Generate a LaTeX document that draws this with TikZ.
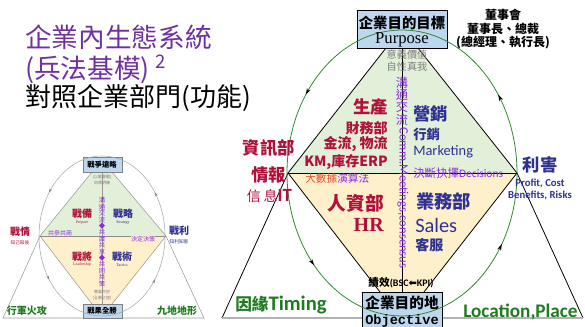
\documentclass[tikz,border=0pt]{standalone}
\usepackage{fontspec}
\setmainfont{Liberation Serif}
\newfontfamily\cjk{Noto Sans CJK TC}
\newfontfamily\calib{Carlito}
\newfontfamily\monof{Liberation Mono}
\newfontfamily\symb{DejaVu Sans}
\usetikzlibrary{arrows.meta,decorations.markings}

\definecolor{titlepurple}{HTML}{7030A0}
\definecolor{commpurple}{HTML}{8B2BE2}
\definecolor{deepred}{HTML}{B0103A}
\definecolor{deepblue}{HTML}{2E3192}
\definecolor{deepgreen}{HTML}{1E7B1E}
\definecolor{leafgreen}{HTML}{E2EFD9}
\definecolor{sandorange}{HTML}{FFF0CC}
\definecolor{boxblue}{HTML}{BDD7EE}
\definecolor{ringgreen}{HTML}{2E8B2E}
\definecolor{datared}{HTML}{E0502A}

\newcommand\fsz[1]{\fontsize{#1}{#1}\selectfont}

\tikzset{
  goalbox/.style={draw=black, fill=boxblue, line width=0.7pt},
  hexline/.style={draw=black, line width=0.6pt},
  ring/.style={draw=ringgreen, line width=0.6pt, postaction=decorate,
    decoration={markings,
      mark=at position 0.09 with {\arrowreversed[black]{Stealth[length=5pt,width=3pt]}},
      mark=at position 0.38 with {\arrowreversed[black]{Stealth[length=5pt,width=3pt]}},
      mark=at position 0.60 with {\arrowreversed[black]{Stealth[length=5pt,width=3pt]}},
      mark=at position 0.90 with {\arrowreversed[black]{Stealth[length=5pt,width=3pt]}}}},
  minring/.style={draw=gray!70, line width=0.4pt, postaction=decorate,
    decoration={markings,
      mark=at position 0.10 with {\arrowreversed[gray]{Stealth[length=3pt,width=2pt]}},
      mark=at position 0.40 with {\arrowreversed[gray]{Stealth[length=3pt,width=2pt]}},
      mark=at position 0.60 with {\arrowreversed[gray]{Stealth[length=3pt,width=2pt]}},
      mark=at position 0.90 with {\arrowreversed[gray]{Stealth[length=3pt,width=2pt]}}}},
  redtxt/.style={text=deepred, font=\cjk\bfseries},
  bluetxt/.style={text=deepblue, font=\cjk\bfseries},
}

\begin{document}
\begin{tikzpicture}[x=0.75pt,y=0.75pt,yscale=-1,xscale=1,every node/.style={inner sep=0pt}]
\useasboundingbox (0,0) rectangle (585,327);

% Title
\draw (25,37) node [anchor=west, text=titlepurple, font=\cjk\fsz{20}] (title1) {企業內生態系統};
\draw (25,69) node [anchor=west, text=titlepurple, font=\cjk\fsz{20}] (title2) {(兵法基模) \textsuperscript{2}};
\draw (25,98) node [anchor=west, font=\cjk\fsz{19.5}] (title3) {對照企業部門(功能)};

%%%%%% small model (left) %%%%%%
\coordinate (mtl) at (92,172); \coordinate (mtr) at (112,172);
\coordinate (mlv) at (40,236);  \coordinate (mrv) at (166,236);
\coordinate (mbl) at (92,304);  \coordinate (mbr) at (112,304);
\coordinate (mcl) at (3,318);   \coordinate (mcr) at (204,318);

%Shape: Polygon
\fill[leafgreen] (mtl) -- (mtr) -- (mrv) -- (mlv) -- cycle ;
\fill[sandorange] (mlv) -- (mrv) -- (mbr) -- (mbl) -- cycle ;
\draw[gray!80, line width=0.4pt] (mtl) -- (mlv) -- (mbl) (mtr) -- (mrv) -- (mbr) ;
\draw[gray!80, line width=0.4pt] (mlv) -- (mcl) -- (mcr) -- (mrv) ;
\draw[gray!90, line width=0.5pt] (mlv) -- (mrv) ;
\draw[gray!80, line width=0.4pt] (102,172) -- (102,304) ;
%Shape: Rectangle
\draw[goalbox, line width=0.4pt, draw=gray] (83,157) rectangle (122,172) ;
\draw[goalbox, line width=0.4pt, draw=gray] (83,304) rectangle (122,318) ;
%Shape: Ellipse
\draw[minring] (102,236) ellipse [x radius=63, y radius=80] ;

% Text Node
\draw (102,164.5) node [font=\cjk\bfseries\fsz{5.5}] (mtop) {戰爭遠略};
\draw (102,311) node [font=\cjk\bfseries\fsz{5.5}] (mbot) {戰果全勝};
\draw (102,177) node [text=gray, font=\cjk\fsz{3}] (mtop1) {(以戰養戰)};
\draw (102,183) node [text=gray, font=\cjk\fsz{3}] (mtop2) {目標明確};
\draw (102,292) node [text=gray, font=\cjk\fsz{3}] (mbot1) {雙贏共好};
\draw (102,298) node [text=gray, font=\cjk\fsz{3}] (mbot2) {(全勝之道)};
\draw (82,214) node [redtxt, font=\cjk\bfseries\fsz{7.5}] (mprep) {戰備};
\draw (82,223) node [text=deepred, font=\fsz{3}] (mprepe) {Prepare};
\draw (123,214) node [bluetxt, font=\cjk\bfseries\fsz{7.5}] (mstra) {戰略};
\draw (123,223) node [text=deepblue, font=\fsz{3}] (mstrae) {Strategy};
\draw (82,257) node [redtxt, font=\cjk\bfseries\fsz{7.5}] (mlead) {戰將};
\draw (82,265) node [text=deepred, font=\fsz{3}] (mleade) {Leadership};
\draw (122,257) node [bluetxt, font=\cjk\bfseries\fsz{7.5}] (mtact) {戰術};
\draw (122,265) node [text=deepblue, font=\fsz{3}] (mtacte) {Tactics};
\draw (20,232) node [redtxt, font=\cjk\bfseries\fsz{7.5}] (mintel) {戰情};
\draw (20,243) node [text=deepred, font=\cjk\fsz{3.5}] (minteld) {知己知彼};
\draw (179,231) node [bluetxt, font=\cjk\bfseries\fsz{7.5}] (mgain) {戰利};
\draw (179,242) node [text=deepblue, font=\cjk\fsz{3.5}] (mgaind) {知利知害};
\draw (60,233) node [text=commpurple, font=\cjk\fsz{4.5}] (mshare) {共參共商};
\draw (143,239) node [text=commpurple, font=\cjk\fsz{4.5}, fill=sandorange] (mdecide) {決定決策};
\draw (102,242) node [text=commpurple, font=\cjk\fsz{4.8}, align=center] (mcomm) {溝\\通\\交\\流\\◆\\共\\識\\共\\享\\◆\\共\\同\\共\\策};
\draw (27,311) node [text=deepgreen, font=\cjk\bfseries\fsz{7.5}] (mmarch) {行軍火攻};
\draw (177,311) node [text=deepgreen, font=\cjk\bfseries\fsz{7.5}] (mland) {九地地形};

%%%%%% main model (right) %%%%%%
\coordinate (tl) at (386,48);  \coordinate (tr) at (418,48);
\coordinate (lv) at (288,173); \coordinate (rv) at (517,173);
\coordinate (bl) at (380,292); \coordinate (br) at (424,292);
\coordinate (cl) at (222,318); \coordinate (cr) at (583,318);

%Shape: Polygon
\fill[leafgreen] (tl) -- (tr) -- (rv) -- (lv) -- cycle ;
\fill[sandorange] (lv) -- (rv) -- (br) -- (bl) -- cycle ;
\draw[hexline] (tl) -- (lv) -- (bl) (tr) -- (rv) -- (br) ;
\draw[hexline] (lv) -- (cl) (rv) -- (cr) ;
\draw[gray!60, line width=0.8pt] (cl) -- (cr) ;
\draw[hexline] (lv) -- (rv) ;
\draw[hexline] (402,48) -- (402,292) ;

%Shape: Rectangle
\draw (402,29) node [goalbox, minimum width=67.5pt, minimum height=28.5pt] (purpose) {};
\draw (402,314) node [goalbox, minimum width=60pt, minimum height=33pt] (objective) {};

%Shape: Ellipse
\draw[ring] (402,173) ellipse [x radius=115, y radius=143] ;

% Text Node
\draw (402,23) node [font=\cjk\bfseries\fsz{10.8}] (purp1) {企業目的目標};
\draw (402,39.5) node [font=\fsz{12.5}] (purp2) {Purpose};
\draw (503,15) node [font=\cjk\bfseries\fsz{9}] (board1) {董事會};
\draw (503,29) node [font=\cjk\bfseries\fsz{9}] (board2) {董事長、總裁};
\draw (503,43) node [font=\cjk\bfseries\fsz{9}] (board3) {(總經理、執行長)};
\draw (407,55) node [text=gray, font=\cjk\fsz{7.6}] (mean1) {意義價值};
\draw (407,67) node [text=gray, font=\cjk\fsz{7.6}] (mean2) {自性真我};

% vertical communication text
\draw (402,101) node [text=commpurple, font=\cjk\fsz{9.2}, align=center] (comm1) {溝\\通\\交\\流};
\draw (403,198) node [text=commpurple, font=\calib\fsz{9.5}, rotate=-90] (comm2) {Comm.Meetings,consensus};

% production
\draw (388,107) node [anchor=east, redtxt, font=\cjk\bfseries\fsz{13}] (prod1) {生產};
\draw (388,128) node [anchor=east, redtxt, font=\cjk\bfseries\fsz{10.5}] (prod2) {財務部};
\draw (388,144) node [anchor=east, redtxt, font=\cjk\bfseries\fsz{10.5}] (prod3) {金流, 物流};
\draw (388,162) node [anchor=east, redtxt, font=\cjk\bfseries\fsz{10.5}] (prod4) {KM,庫存ERP};

% marketing
\draw (413,114) node [anchor=west, bluetxt, font=\cjk\bfseries\fsz{13}] (mkt1) {營銷};
\draw (413,134) node [anchor=west, bluetxt, font=\cjk\bfseries\fsz{10}] (mkt2) {行銷};
\draw (413,152) node [anchor=west, text=deepblue, font=\calib\fsz{10.8}] (mkt3) {Marketing};
\draw (413,173) node [anchor=west, text=commpurple, font=\cjk\fsz{8.6}] (mkt4) {決斷抉擇{\calib Decisions}};

% information
\draw (295,148) node [anchor=east, redtxt, font=\cjk\bfseries\fsz{13}] (info1) {資訊部};
\draw (286,175) node [anchor=east, redtxt, font=\cjk\bfseries\fsz{13}] (info2) {情報};
\draw (292,196) node [anchor=east, text=deepred] (info3) {{\cjk\fsz{10.5}信\hspace{2pt}息}{\calib\bfseries\fsz{14}IT}};
\draw (305,178) node [anchor=west, font=\cjk\fsz{8}] (algo) {{\color{datared}大數據}{\color{commpurple}演算法}};

% human resources
\draw (384,203) node [anchor=east, redtxt, font=\cjk\bfseries\fsz{14}] (hr1) {人資部};
\draw (384,225) node [anchor=east, text=deepred, font=\bfseries\fsz{15}] (hr2) {HR};

% sales
\draw (416,201) node [anchor=west, bluetxt, font=\cjk\bfseries\fsz{13.7}] (sales1) {業務部};
\draw (415,225) node [anchor=west, text=deepblue, font=\calib\fsz{15.3}] (sales2) {Sales};
\draw (415,245) node [anchor=west, bluetxt, font=\cjk\bfseries\fsz{10.5}] (sales3) {客服};

% profit
\draw (540,165) node [bluetxt, font=\cjk\bfseries\fsz{13}] (gain1) {利害};
\draw (540,183) node [text=deepblue, font=\calib\bfseries\fsz{8}] (gain2) {Profit, Cost};
\draw (540,195) node [text=deepblue, font=\calib\bfseries\fsz{8}] (gain3) {Benefits, Risks};

% performance
\draw (401,283) node (perf) {{\cjk\bfseries\fsz{8}績效}{\calib\bfseries\fsz{7.5}(BSC}{\symb\bfseries\fsz{7.5}⬅}{\calib\bfseries\fsz{7.5}KPI)}};

% objective box text
\draw (402,303) node [font=\cjk\bfseries\fsz{11}] (obj1) {企業目的地};
\draw (402,320.5) node [font=\monof\bfseries\fsz{10.2}] (obj2) {Objective};

% timing / place
\draw (235,305) node [anchor=west, text=deepgreen] (timing) {{\cjk\bfseries\fsz{12.5}因緣}{\calib\bfseries\fsz{15.5}Timing}};
\draw (463,312) node [anchor=west, text=deepgreen, font=\calib\bfseries\fsz{14.4}] (place) {Location,Place};

\end{tikzpicture}
\end{document}
